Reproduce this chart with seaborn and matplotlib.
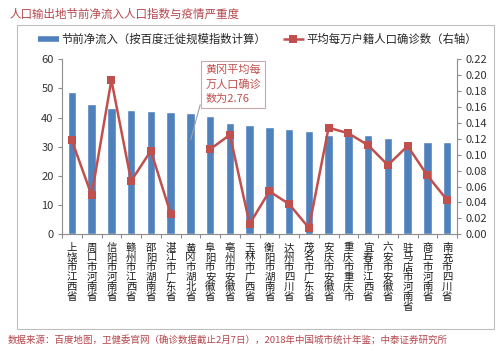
import pandas as pd
import numpy as np
import seaborn as sns
import matplotlib.pyplot as plt
import matplotlib.patches as mpatches
from matplotlib.lines import Line2D
from matplotlib.ticker import FormatStrFormatter, FixedLocator

cities = ["上饶市江西省", "周口市河南省", "信阳市河南省", "赣州市江西省", "邵阳市湖南省",
          "湛江市广东省", "黄冈市湖北省", "阜阳市安徽省", "亳州市安徽省", "玉林市广西省",
          "衡阳市湖南省", "达州市四川省", "茂名市广东省", "安庆市安徽省", "重庆市重庆市",
          "宜春市江西省", "六安市安徽省", "驻马店市河南省", "商丘市河南省", "南充市四川省"]
inflow = [48.9, 44.7, 43.4, 42.7, 42.4, 42.0, 41.7, 40.6, 38.3, 37.5,
          36.7, 36.2, 35.5, 34.1, 34.1, 33.9, 33.0, 31.6, 31.5, 31.5]
# 黄冈 (2.76) is off the scale, the line is broken there
cases = [0.118, 0.049, 0.194, 0.067, 0.105, 0.026, np.nan, 0.107, 0.125, 0.013,
         0.054, 0.038, 0.008, 0.134, 0.127, 0.112, 0.087, 0.111, 0.074, 0.043]

bar_label = "节前净流入（按百度迁徙规模指数计算）"
line_label = "平均每万户籍人口确诊数（右轴）"
title = "人口输出地节前净流入人口指数与疫情严重度"
source = "数据来源：百度地图，卫健委官网（确诊数据截止2月7日），2018年中国城市统计年鉴；中泰证券研究所"
note = "黄冈平均每\n万人口确诊\n数为2.76"

blue = "#4F81BD"
red = "#C0504D"
dark_red = "#B5454B"

sns.set_style("white")
plt.rcParams['font.family'] = ['Noto Sans CJK SC', 'DejaVu Sans']

df = pd.DataFrame({"city": cities, "inflow": inflow, "cases": cases})
df["x"] = np.arange(len(df))
df["seg"] = df["cases"].isna().cumsum()
line_df = df.dropna(subset=["cases"])

fig = plt.figure(figsize=(5, 3.53), dpi=100)
ax = fig.add_axes([0.124, 0.3363, 0.79, 0.4957])

sns.barplot(data=df, x="city", y="inflow", color=blue, width=0.42, saturation=1, ax=ax)
ax.set_ylim(0, 60)
ax.set_xlim(-0.5, len(cities) - 0.5)
ax.set_yticks(range(0, 61, 10))
ax.set_xticks(range(len(cities)))
ax.set_xticklabels(["\n".join(c) for c in cities], fontsize=7.5, linespacing=0.98,
                   va="top", color="#1A1A1A")
ax.set_xlabel("")
ax.set_ylabel("")

ax2 = ax.twinx()
sns.lineplot(data=line_df, x="x", y="cases", units="seg", estimator=None, color=red,
             lw=1.8, marker="s", markersize=5.5, markeredgewidth=0, ax=ax2)
ax2.set_ylim(0, 0.22)
ax2.set_yticks(np.arange(0, 0.2201, 0.02))
ax2.yaxis.set_major_formatter(FormatStrFormatter("%.2f"))
ax2.set_ylabel("")
ax2.set_xlim(-0.5, len(cities) - 0.5)

for a in (ax, ax2):
    for s in a.spines.values():
        s.set_color("#8C8C8C")
        s.set_linewidth(0.8)
    a.spines["top"].set_visible(False)
ax.spines["right"].set_visible(False)
ax2.spines["left"].set_visible(False)
ax2.spines["bottom"].set_visible(False)

ax.tick_params(axis="y", direction="out", length=3, width=0.8, color="#8C8C8C",
               labelsize=8, labelcolor="#333333", pad=3, left=True)
ax2.tick_params(axis="y", direction="out", length=3, width=0.8, color="#8C8C8C",
                labelsize=8, labelcolor="#333333", pad=3, right=True)
ax.tick_params(axis="x", which="major", length=0, pad=6)
ax.xaxis.set_minor_locator(FixedLocator(np.arange(-0.5, len(cities), 1)))
ax.tick_params(axis="x", which="minor", direction="out", length=3, width=0.8,
               color="#8C8C8C", bottom=True)

ax.annotate(note, xy=(5.98, 31.5), xytext=(6.75, 58.0), textcoords="data",
            ha="left", va="top", fontsize=8, color=red, linespacing=1.45,
            bbox=dict(boxstyle="square,pad=0.35", fc="white", ec="#C9A9A9", lw=0.8),
            arrowprops=dict(arrowstyle="-", color="#A0A0A0", lw=0.8, relpos=(0, 0.45)),
            zorder=5)

handles = [Line2D([0], [0], color=blue, lw=4, solid_capstyle="butt"),
           Line2D([0], [0], color=red, lw=1.8, marker="s", markersize=5.5,
                  markeredgewidth=0, solid_capstyle="butt")]
fig.legend(handles, [bar_label, line_label], loc="center", bbox_to_anchor=(0.515, 0.889),
           ncol=2, frameon=False, fontsize=8.2, handlelength=1.8, handletextpad=0.2,
           columnspacing=1.5)

fig.patches.append(mpatches.Rectangle((17 / 500, 1 - 329 / 353), 477 / 500, 304 / 353,
                                      transform=fig.transFigure, fill=False,
                                      ec="#BDBDBD", lw=0.8))
fig.text(10 / 500, 1 - 14 / 353, title, fontsize=8.3, color=dark_red, ha="left", va="center")
fig.text(8 / 500, 1 - 340 / 353, source, fontsize=6.8, color=dark_red, ha="left", va="center")

fig.savefig("out.png", dpi=100)
